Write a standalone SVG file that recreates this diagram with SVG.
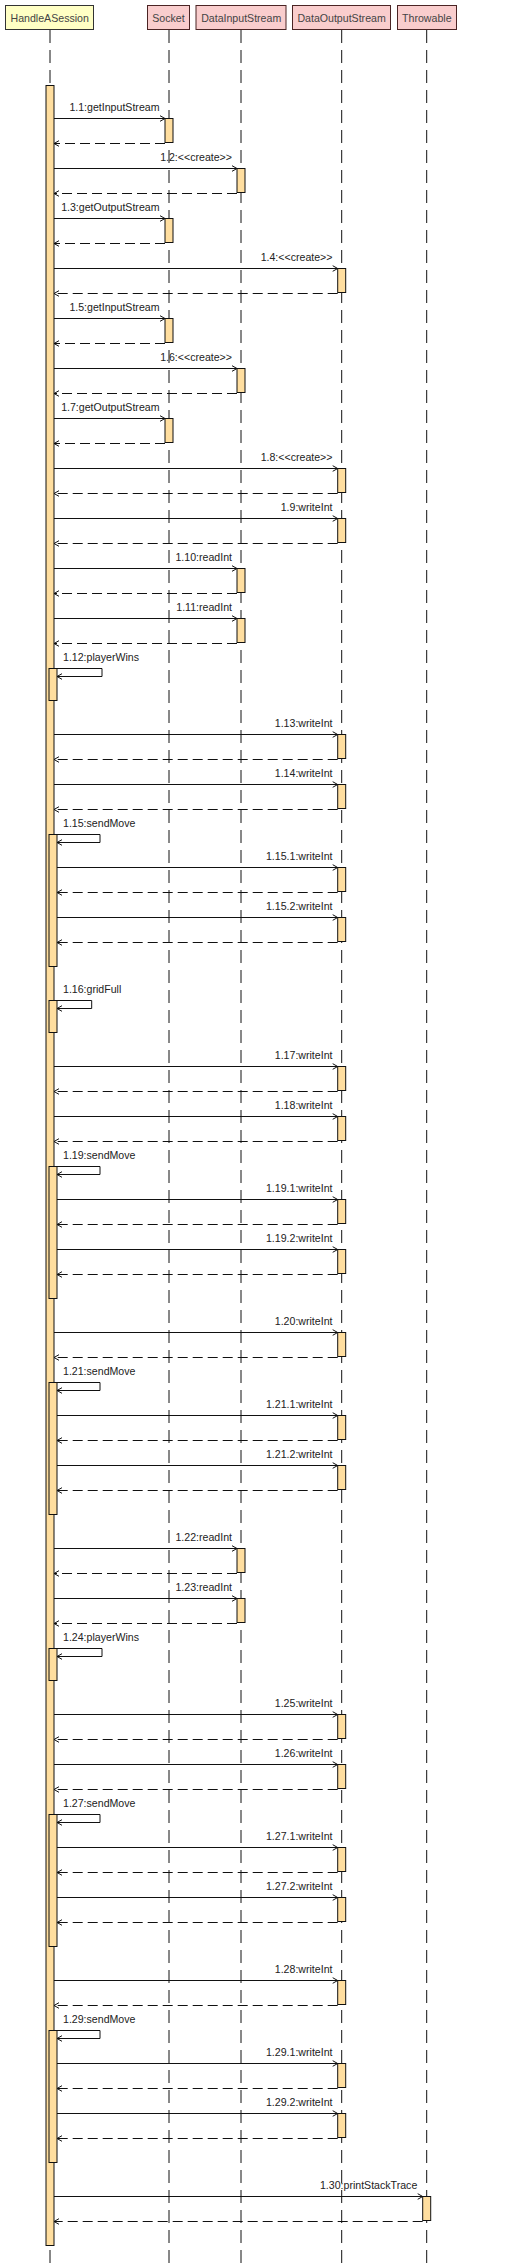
<svg xmlns="http://www.w3.org/2000/svg" width="527" height="2264" viewBox="0 0 527 2264">
<style>
text{font-family:"Liberation Sans",Arial,sans-serif;font-size:10.6px;fill:#222}
.hd{fill:#444;text-anchor:middle}
.e{text-anchor:end}
.life{stroke:#111;stroke-width:1;stroke-dasharray:13 7;fill:none}
.boxy{fill:#FFFFC4;stroke:#333;stroke-width:1}
.boxp{fill:#F9CDCD;stroke:#4a2424;stroke-width:1}
.act{fill:#FFDE9F;stroke:#111;stroke-width:1}
.call{stroke:#111;stroke-width:1;fill:none;marker-end:url(#arr)}
.ret{stroke:#111;stroke-width:1;fill:none;stroke-dasharray:10 5;marker-end:url(#arr)}
</style>
<defs>
<marker id="arr" viewBox="0 0 6 8" refX="5.5" refY="4" markerWidth="6" markerHeight="8" markerUnits="userSpaceOnUse" orient="auto">
<path d="M0.5,1.2 L5.5,4 L0.5,6.8" fill="none" stroke="#111" stroke-width="1"/>
</marker>
</defs>
<rect width="527" height="2264" fill="#fff"/>

<g id="HandleASession">
<rect class="boxy" x="5.5" y="5.5" width="88" height="24"/>
<text class="hd" x="49.7" y="21.5">HandleASession</text>
<line class="life" x1="50" y1="30" x2="50" y2="2264"/>
<rect class="act" x="46" y="85.5" width="8" height="2160"/>
<rect class="act" x="49" y="668.5" width="8" height="32"/>
<rect class="act" x="49" y="834.5" width="8" height="132"/>
<rect class="act" x="49" y="1000.5" width="8" height="32"/>
<rect class="act" x="49" y="1166.5" width="8" height="132"/>
<rect class="act" x="49" y="1382.5" width="8" height="132"/>
<rect class="act" x="49" y="1648.5" width="8" height="32"/>
<rect class="act" x="49" y="1814.5" width="8" height="132"/>
<rect class="act" x="49" y="2030.5" width="8" height="132"/>
</g>

<g id="Socket">
<rect class="boxp" x="147.5" y="5.5" width="42" height="24"/>
<text class="hd" x="168.4" y="21.5">Socket</text>
<line class="life" x1="169" y1="30" x2="169" y2="2264"/>
<rect class="act" x="165" y="118.5" width="8" height="24"/>
<rect class="act" x="165" y="218.5" width="8" height="24"/>
<rect class="act" x="165" y="318.5" width="8" height="24"/>
<rect class="act" x="165" y="418.5" width="8" height="24"/>
</g>

<g id="DataInputStream">
<rect class="boxp" x="196" y="5.5" width="90" height="24"/>
<text class="hd" x="241.2" y="21.5">DataInputStream</text>
<line class="life" x1="241" y1="30" x2="241" y2="2264"/>
<rect class="act" x="237" y="168.5" width="8" height="24"/>
<rect class="act" x="237" y="368.5" width="8" height="24"/>
<rect class="act" x="237" y="568.5" width="8" height="24"/>
<rect class="act" x="237" y="618.5" width="8" height="24"/>
<rect class="act" x="237" y="1548.5" width="8" height="24"/>
<rect class="act" x="237" y="1598.5" width="8" height="24"/>
</g>

<g id="DataOutputStream">
<rect class="boxp" x="292.5" y="5.5" width="98" height="24"/>
<text class="hd" x="341.6" y="21.5">DataOutputStream</text>
<line class="life" x1="341.7" y1="30" x2="341.7" y2="2264"/>
<rect class="act" x="337.7" y="268.5" width="8" height="24"/>
<rect class="act" x="337.7" y="468.5" width="8" height="24"/>
<rect class="act" x="337.7" y="518.5" width="8" height="24"/>
<rect class="act" x="337.7" y="734.5" width="8" height="24"/>
<rect class="act" x="337.7" y="784.5" width="8" height="24"/>
<rect class="act" x="337.7" y="867.5" width="8" height="24"/>
<rect class="act" x="337.7" y="917.5" width="8" height="24"/>
<rect class="act" x="337.7" y="1066.5" width="8" height="24"/>
<rect class="act" x="337.7" y="1116.5" width="8" height="24"/>
<rect class="act" x="337.7" y="1199.5" width="8" height="24"/>
<rect class="act" x="337.7" y="1249.5" width="8" height="24"/>
<rect class="act" x="337.7" y="1332.5" width="8" height="24"/>
<rect class="act" x="337.7" y="1415.5" width="8" height="24"/>
<rect class="act" x="337.7" y="1465.5" width="8" height="24"/>
<rect class="act" x="337.7" y="1714.5" width="8" height="24"/>
<rect class="act" x="337.7" y="1764.5" width="8" height="24"/>
<rect class="act" x="337.7" y="1847.5" width="8" height="24"/>
<rect class="act" x="337.7" y="1897.5" width="8" height="24"/>
<rect class="act" x="337.7" y="1980.5" width="8" height="24"/>
<rect class="act" x="337.7" y="2063.5" width="8" height="24"/>
<rect class="act" x="337.7" y="2113.5" width="8" height="24"/>
</g>

<g id="Throwable">
<rect class="boxp" x="397.5" y="5.5" width="59" height="24"/>
<text class="hd" x="426.8" y="21.5">Throwable</text>
<line class="life" x1="426.7" y1="30" x2="426.7" y2="2264"/>
<rect class="act" x="422.7" y="2196.5" width="8" height="24"/>
</g>

<g id="connectors">
<text class="e" x="159.5" y="110.5">1.1:getInputStream</text>
<line class="call" x1="54" y1="118.5" x2="165" y2="118.5"/>
<line class="ret" x1="165" y1="143.5" x2="54" y2="143.5"/>

<text class="e" x="232" y="160.5">1.2:&lt;&lt;create&gt;&gt;</text>
<line class="call" x1="54" y1="168.5" x2="237" y2="168.5"/>
<line class="ret" x1="237" y1="193.5" x2="54" y2="193.5"/>

<text class="e" x="159.5" y="210.5">1.3:getOutputStream</text>
<line class="call" x1="54" y1="218.5" x2="165" y2="218.5"/>
<line class="ret" x1="165" y1="243.5" x2="54" y2="243.5"/>

<text class="e" x="332.5" y="260.5">1.4:&lt;&lt;create&gt;&gt;</text>
<line class="call" x1="54" y1="268.5" x2="337.7" y2="268.5"/>
<line class="ret" x1="337.7" y1="293.5" x2="54" y2="293.5"/>

<text class="e" x="159.5" y="310.5">1.5:getInputStream</text>
<line class="call" x1="54" y1="318.5" x2="165" y2="318.5"/>
<line class="ret" x1="165" y1="343.5" x2="54" y2="343.5"/>

<text class="e" x="232" y="360.5">1.6:&lt;&lt;create&gt;&gt;</text>
<line class="call" x1="54" y1="368.5" x2="237" y2="368.5"/>
<line class="ret" x1="237" y1="393.5" x2="54" y2="393.5"/>

<text class="e" x="159.5" y="410.5">1.7:getOutputStream</text>
<line class="call" x1="54" y1="418.5" x2="165" y2="418.5"/>
<line class="ret" x1="165" y1="443.5" x2="54" y2="443.5"/>

<text class="e" x="332.5" y="460.5">1.8:&lt;&lt;create&gt;&gt;</text>
<line class="call" x1="54" y1="468.5" x2="337.7" y2="468.5"/>
<line class="ret" x1="337.7" y1="493.5" x2="54" y2="493.5"/>

<text class="e" x="332.5" y="510.5">1.9:writeInt</text>
<line class="call" x1="54" y1="518.5" x2="337.7" y2="518.5"/>
<line class="ret" x1="337.7" y1="543.5" x2="54" y2="543.5"/>

<text class="e" x="232" y="560.5">1.10:readInt</text>
<line class="call" x1="54" y1="568.5" x2="237" y2="568.5"/>
<line class="ret" x1="237" y1="593.5" x2="54" y2="593.5"/>

<text class="e" x="232" y="610.5">1.11:readInt</text>
<line class="call" x1="54" y1="618.5" x2="237" y2="618.5"/>
<line class="ret" x1="237" y1="643.5" x2="54" y2="643.5"/>

<text x="63" y="660.5">1.12:playerWins</text>
<path class="call" d="M57,668.5 H102 V676.5 H57"/>

<text class="e" x="332.5" y="726.5">1.13:writeInt</text>
<line class="call" x1="54" y1="734.5" x2="337.7" y2="734.5"/>
<line class="ret" x1="337.7" y1="759.5" x2="54" y2="759.5"/>

<text class="e" x="332.5" y="776.5">1.14:writeInt</text>
<line class="call" x1="54" y1="784.5" x2="337.7" y2="784.5"/>
<line class="ret" x1="337.7" y1="809.5" x2="54" y2="809.5"/>

<text x="63" y="826.5">1.15:sendMove</text>
<path class="call" d="M57,834.5 H100 V842.5 H57"/>

<text class="e" x="332.5" y="859.5">1.15.1:writeInt</text>
<line class="call" x1="57" y1="867.5" x2="337.7" y2="867.5"/>
<line class="ret" x1="337.7" y1="892.5" x2="57" y2="892.5"/>

<text class="e" x="332.5" y="909.5">1.15.2:writeInt</text>
<line class="call" x1="57" y1="917.5" x2="337.7" y2="917.5"/>
<line class="ret" x1="337.7" y1="942.5" x2="57" y2="942.5"/>

<text x="63" y="992.5">1.16:gridFull</text>
<path class="call" d="M57,1000.5 H91.7 V1008.5 H57"/>

<text class="e" x="332.5" y="1058.5">1.17:writeInt</text>
<line class="call" x1="54" y1="1066.5" x2="337.7" y2="1066.5"/>
<line class="ret" x1="337.7" y1="1091.5" x2="54" y2="1091.5"/>

<text class="e" x="332.5" y="1108.5">1.18:writeInt</text>
<line class="call" x1="54" y1="1116.5" x2="337.7" y2="1116.5"/>
<line class="ret" x1="337.7" y1="1141.5" x2="54" y2="1141.5"/>

<text x="63" y="1158.5">1.19:sendMove</text>
<path class="call" d="M57,1166.5 H100 V1174.5 H57"/>

<text class="e" x="332.5" y="1191.5">1.19.1:writeInt</text>
<line class="call" x1="57" y1="1199.5" x2="337.7" y2="1199.5"/>
<line class="ret" x1="337.7" y1="1224.5" x2="57" y2="1224.5"/>

<text class="e" x="332.5" y="1241.5">1.19.2:writeInt</text>
<line class="call" x1="57" y1="1249.5" x2="337.7" y2="1249.5"/>
<line class="ret" x1="337.7" y1="1274.5" x2="57" y2="1274.5"/>

<text class="e" x="332.5" y="1324.5">1.20:writeInt</text>
<line class="call" x1="54" y1="1332.5" x2="337.7" y2="1332.5"/>
<line class="ret" x1="337.7" y1="1357.5" x2="54" y2="1357.5"/>

<text x="63" y="1374.5">1.21:sendMove</text>
<path class="call" d="M57,1382.5 H100 V1390.5 H57"/>

<text class="e" x="332.5" y="1407.5">1.21.1:writeInt</text>
<line class="call" x1="57" y1="1415.5" x2="337.7" y2="1415.5"/>
<line class="ret" x1="337.7" y1="1440.5" x2="57" y2="1440.5"/>

<text class="e" x="332.5" y="1457.5">1.21.2:writeInt</text>
<line class="call" x1="57" y1="1465.5" x2="337.7" y2="1465.5"/>
<line class="ret" x1="337.7" y1="1490.5" x2="57" y2="1490.5"/>

<text class="e" x="232" y="1540.5">1.22:readInt</text>
<line class="call" x1="54" y1="1548.5" x2="237" y2="1548.5"/>
<line class="ret" x1="237" y1="1573.5" x2="54" y2="1573.5"/>

<text class="e" x="232" y="1590.5">1.23:readInt</text>
<line class="call" x1="54" y1="1598.5" x2="237" y2="1598.5"/>
<line class="ret" x1="237" y1="1623.5" x2="54" y2="1623.5"/>

<text x="63" y="1640.5">1.24:playerWins</text>
<path class="call" d="M57,1648.5 H102 V1656.5 H57"/>

<text class="e" x="332.5" y="1706.5">1.25:writeInt</text>
<line class="call" x1="54" y1="1714.5" x2="337.7" y2="1714.5"/>
<line class="ret" x1="337.7" y1="1739.5" x2="54" y2="1739.5"/>

<text class="e" x="332.5" y="1756.5">1.26:writeInt</text>
<line class="call" x1="54" y1="1764.5" x2="337.7" y2="1764.5"/>
<line class="ret" x1="337.7" y1="1789.5" x2="54" y2="1789.5"/>

<text x="63" y="1806.5">1.27:sendMove</text>
<path class="call" d="M57,1814.5 H100 V1822.5 H57"/>

<text class="e" x="332.5" y="1839.5">1.27.1:writeInt</text>
<line class="call" x1="57" y1="1847.5" x2="337.7" y2="1847.5"/>
<line class="ret" x1="337.7" y1="1872.5" x2="57" y2="1872.5"/>

<text class="e" x="332.5" y="1889.5">1.27.2:writeInt</text>
<line class="call" x1="57" y1="1897.5" x2="337.7" y2="1897.5"/>
<line class="ret" x1="337.7" y1="1922.5" x2="57" y2="1922.5"/>

<text class="e" x="332.5" y="1972.5">1.28:writeInt</text>
<line class="call" x1="54" y1="1980.5" x2="337.7" y2="1980.5"/>
<line class="ret" x1="337.7" y1="2005.5" x2="54" y2="2005.5"/>

<text x="63" y="2022.5">1.29:sendMove</text>
<path class="call" d="M57,2030.5 H100 V2038.5 H57"/>

<text class="e" x="332.5" y="2055.5">1.29.1:writeInt</text>
<line class="call" x1="57" y1="2063.5" x2="337.7" y2="2063.5"/>
<line class="ret" x1="337.7" y1="2088.5" x2="57" y2="2088.5"/>

<text class="e" x="332.5" y="2105.5">1.29.2:writeInt</text>
<line class="call" x1="57" y1="2113.5" x2="337.7" y2="2113.5"/>
<line class="ret" x1="337.7" y1="2138.5" x2="57" y2="2138.5"/>

<text class="e" x="417.3" y="2188.5">1.30:printStackTrace</text>
<line class="call" x1="54" y1="2196.5" x2="422.7" y2="2196.5"/>
<line class="ret" x1="422.7" y1="2221.5" x2="54" y2="2221.5"/>
</g>
</svg>
